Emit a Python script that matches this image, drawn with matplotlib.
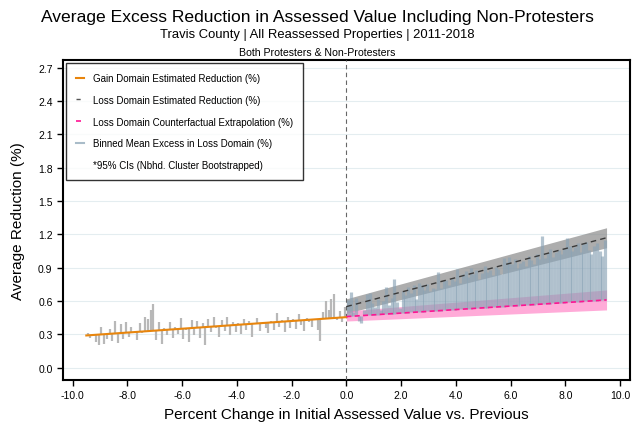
import matplotlib.pyplot as plt
import numpy as np
from matplotlib.lines import Line2D

plt.rcParams['font.family'] = ['Liberation Sans', 'DejaVu Sans']

# Binned means, gain domain (bin centers -9.45 .. -0.05, width 0.1)
gain_x = np.round(np.arange(-9.45, 0, 0.1), 2)
gain_mean = [0.31, 0.27, 0.30, 0.23, 0.20, 0.37, 0.21, 0.26, 0.35, 0.24,
             0.42, 0.22, 0.39, 0.26, 0.41, 0.28, 0.37, 0.32, 0.25, 0.40,
             0.31, 0.46, 0.44, 0.52, 0.57, 0.25, 0.41, 0.21, 0.36, 0.29,
             0.41, 0.27, 0.37, 0.30, 0.45, 0.26, 0.34, 0.23, 0.43, 0.29,
             0.42, 0.27, 0.40, 0.20, 0.44, 0.32, 0.46, 0.36, 0.28, 0.43,
             0.33, 0.46, 0.29, 0.41, 0.32, 0.40, 0.30, 0.44, 0.34, 0.42,
             0.28, 0.39, 0.45, 0.33, 0.41, 0.36, 0.31, 0.42, 0.34, 0.49,
             0.37, 0.43, 0.32, 0.46, 0.36, 0.44, 0.35, 0.48, 0.38, 0.33,
             0.45, 0.41, 0.37, 0.44, 0.34, 0.24, 0.50, 0.60, 0.52, 0.62,
             0.66, 0.43, 0.51, 0.41, 0.55]

# Binned means, loss domain (bin centers 0.05 .. 9.45)
loss_x = np.round(np.arange(0.05, 9.5, 0.1), 2)
loss_mean = [0.61, 0.68, 0.50, 0.63, 0.42, 0.40, 0.52, 0.66, 0.67, 0.58,
             0.55, 0.62, 0.52, 0.60, 0.73, 0.56, 0.63, 0.80, 0.59, 0.54,
             0.69, 0.65, 0.73, 0.67, 0.74, 0.62, 0.76, 0.74, 0.70, 0.75,
             0.69, 0.72, 0.71, 0.86, 0.72, 0.78, 0.79, 0.74, 0.81, 0.78,
             0.89, 0.76, 0.84, 0.87, 0.82, 0.90, 0.84, 0.88, 0.80, 0.85,
             0.92, 0.86, 0.88, 0.83, 0.91, 0.89, 0.84, 0.99, 0.95, 1.00,
             0.93, 0.98, 0.90, 0.94, 0.96, 0.92, 1.01, 0.97, 0.93, 1.02,
             0.98, 1.19, 0.99, 1.03, 1.07, 1.00, 1.04, 1.06, 1.02, 1.08,
             1.17, 1.10, 1.05, 1.09, 1.12, 1.04, 1.11, 1.13, 1.06, 1.02,
             1.10, 1.12, 1.05, 1.01, 1.15]

# Fitted lines (endpoints) and confidence bands
gain_fit_x = [-9.5, 0.0]
gain_fit_y = [0.29, 0.455]
loss_fit_x = [0.0, 9.5]
loss_fit_y = [0.55, 1.17]
loss_ci_lo = [0.49, 1.08]
loss_ci_hi = [0.62, 1.26]
cf_fit_y = [0.46, 0.61]
cf_ci_lo = [0.42, 0.52]
cf_ci_hi = [0.51, 0.70]

fig = plt.figure(figsize=(6.34, 4.27), dpi=100)
ax = fig.add_axes([0.0994, 0.108, 0.894, 0.749])

for y in np.arange(0, 2.71, 0.3):
    ax.axhline(y, color='#e4edf0', lw=0.8, zorder=0)

# gain domain spikes from fitted line to binned mean
gain_base = np.interp(gain_x, gain_fit_x, gain_fit_y)
ax.vlines(gain_x, gain_base, gain_mean, color='#b8b8b8', lw=1.6, zorder=2)

# loss domain bands
ax.fill_between(loss_fit_x, loss_ci_lo, loss_ci_hi, color='#8a8a8a', alpha=0.7, lw=0, zorder=2)
ax.fill_between(loss_fit_x, cf_ci_lo, cf_ci_hi, color='#ff7ec4', alpha=0.65, lw=0, zorder=2)

# loss domain spikes from counterfactual to binned mean
loss_base = np.interp(loss_x, loss_fit_x, cf_fit_y)
ax.vlines(loss_x, loss_base, loss_mean, color='#8aa3b6', lw=2.3, alpha=0.65, zorder=3)

ax.plot(gain_fit_x, gain_fit_y, color='#e8850c', lw=1.5, zorder=5)
ax.plot(loss_fit_x, loss_fit_y, color='#3a3a3a', lw=1.0, ls=(0, (4, 3)), zorder=5)
ax.plot(loss_fit_x, cf_fit_y, color='#ff1493', lw=1.2, ls=(0, (3, 2)), zorder=5)

ax.axvline(0, color='#666666', lw=0.8, ls=(0, (4, 3)), zorder=4)

ax.set_xlim(-10.35, 10.35)
ax.set_ylim(-0.11, 2.77)
ax.set_xticks(np.arange(-10, 10.1, 2))
ax.set_xticklabels([f"{v:.1f}" for v in np.arange(-10, 10.1, 2)])
ax.set_yticks(np.arange(0, 2.71, 0.3))
ax.set_yticklabels([f"{v:.1f}" for v in np.arange(0, 2.71, 0.3)])
ax.tick_params(labelsize=7.5, length=4, width=1, direction='out', colors='black')
for s in ax.spines.values():
    s.set_linewidth(1.5)

ax.set_xlabel('Percent Change in Initial Assessed Value vs. Previous', fontsize=11, labelpad=5)
ax.set_ylabel('Average Reduction (%)', fontsize=11, labelpad=9)

fig.text(0.5, 0.958, 'Average Excess Reduction in Assessed Value Including Non-Protesters',
         ha='center', va='center', fontsize=12.6)
fig.text(0.5, 0.918, 'Travis County | All Reassessed Properties | 2011-2018',
         ha='center', va='center', fontsize=9.4)
fig.text(0.5, 0.876, 'Both Protesters & Non-Protesters', ha='center', va='center', fontsize=7.6)

handles = [Line2D([], [], color='#e8850c', lw=1.5),
           Line2D([], [], color='#555555', lw=1.0, ls=(0, (3, 3))),
           Line2D([], [], color='#ff1493', lw=1.2, ls=(0, (3, 3))),
           Line2D([], [], color='#a9bcc9', lw=1.5),
           Line2D([], [], color='none')]
labels = ['Gain Domain Estimated Reduction (%)',
          'Loss Domain Estimated Reduction (%)',
          'Loss Domain Counterfactual Extrapolation (%)',
          'Binned Mean Excess in Loss Domain (%)',
          '*95% CIs (Nbhd. Cluster Bootstrapped)']
leg = ax.legend(handles, labels, loc='upper left', bbox_to_anchor=(0.0, 1.0),
                borderaxespad=0.35, fontsize=7, frameon=True, fancybox=False,
                handlelength=0.8, labelspacing=1.2, borderpad=1.0, handletextpad=0.9)
leg.get_frame().set_edgecolor('black')
leg.get_frame().set_linewidth(1.0)

fig.savefig('out.png', dpi=100)
